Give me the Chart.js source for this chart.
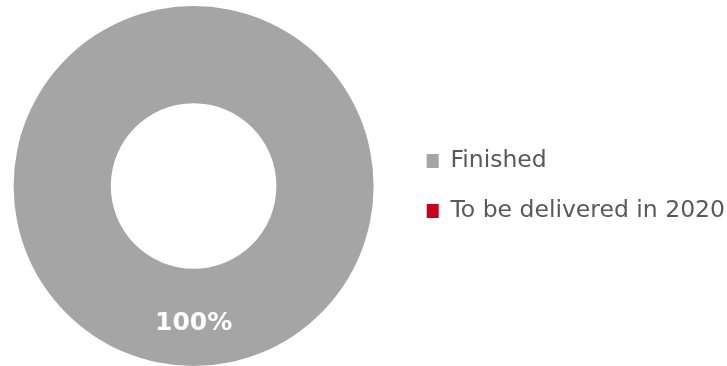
<!DOCTYPE html>
<html>
<head>
<meta charset="utf-8">
<script src="https://cdn.jsdelivr.net/npm/chart.js@4/dist/chart.umd.min.js"></script>
<style>
  html, body { margin: 0; padding: 0; background: #fff; overflow: hidden; }
  #wrap { width: 748px; height: 366px; margin-left: -13px; }
</style>
</head>
<body>
<div id="wrap"><canvas id="chart"></canvas></div>
<script>
const labels = ['Finished', 'To be delivered in 2020'];
const shares = [100, 0];
const colors = ['#A5A5A5', '#C8001E'];

// draws the percentage inside each non-empty slice
const sliceLabels = {
  id: 'sliceLabels',
  afterDatasetsDraw(chart) {
    const ctx = chart.ctx;
    const meta = chart.getDatasetMeta(0);
    ctx.save();
    ctx.fillStyle = '#ffffff';
    ctx.font = 'bold 25px "DejaVu Sans"';
    ctx.textAlign = 'center';
    ctx.textBaseline = 'middle';
    meta.data.forEach((arc, i) => {
      if (!shares[i]) return;
      const pos = arc.tooltipPosition();
      ctx.fillText(shares[i] + '%', pos.x, pos.y + 6);
    });
    ctx.restore();
  }
};

new Chart(document.getElementById('chart'), {
  type: 'doughnut',
  data: {
    labels: labels,
    datasets: [{
      data: shares,
      backgroundColor: colors,
      borderWidth: 0,
    }]
  },
  options: {
    responsive: true,
    maintainAspectRatio: false,
    animation: false,
    cutout: '46%',
    layout: {
      padding: { left: 0, right: 0, top: 6, bottom: 0 }
    },
    plugins: {
      legend: {
        position: 'right',
        labels: {
          boxWidth: 12,
          boxHeight: 14,
          padding: 26.5,
          color: '#595959',
          font: { family: '"DejaVu Sans"', size: 23.5 },
        },
      },
      tooltip: { enabled: false },
    },
  },
  plugins: [sliceLabels]
});
</script>
</body>
</html>
